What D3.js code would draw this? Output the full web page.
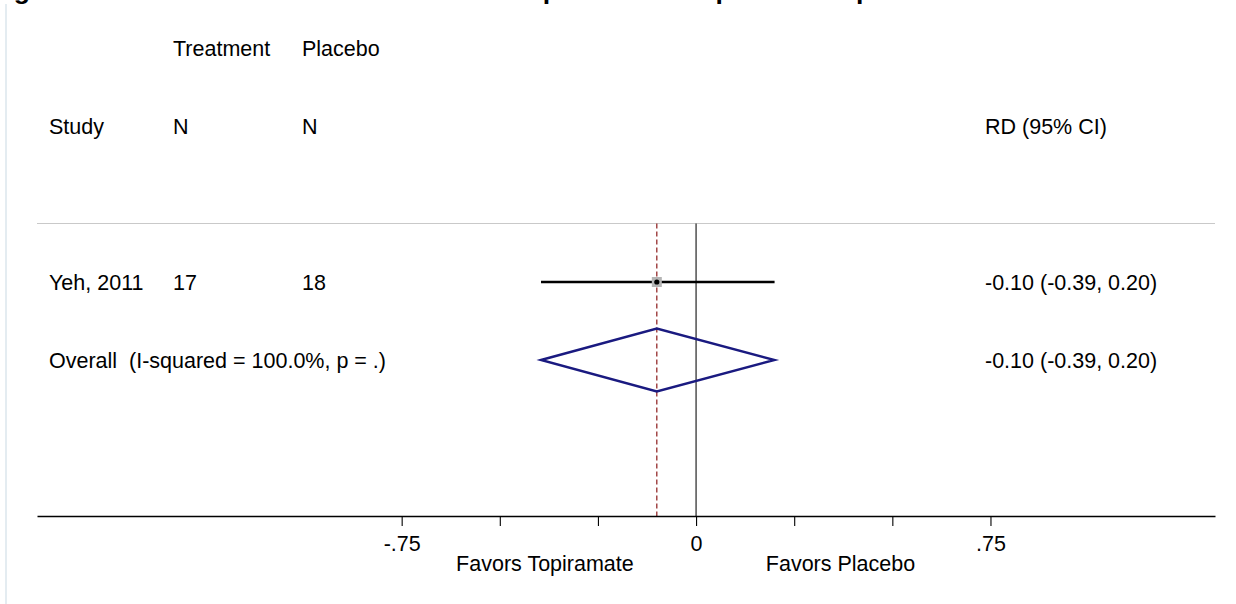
<!DOCTYPE html>
<html>
<head>
<meta charset="utf-8">
<script src="https://cdn.jsdelivr.net/npm/d3@7"></script>
<style>
  html, body { margin: 0; padding: 0; background: #fff; }
  svg { display: block; }
  text { font-family: "Liberation Sans", Arial, sans-serif; fill: #000; white-space: pre; }
</style>
</head>
<body>
<svg id="chart" width="1236" height="604"></svg>
<script>
// ---- data ----
const titleText = "Figure 1. Risk difference of outcome with topiramate compared with placebo";
const headerTop = ["Treatment", "Placebo"];
const headerCols = ["Study", "N", "N", "RD (95% CI)"];
const studies = ["Yeh, 2011"];
const treatN = [17];
const placeboN = [18];
const rdEst = [-0.10];
const rdLo = [-0.395];
const rdHi = [0.20];
const rdLabels = ["-0.10 (-0.39, 0.20)"];
const overallLabel = "Overall  (I-squared = 100.0%, p = .)";
const overallEst = -0.10, overallLo = -0.395, overallHi = 0.20;
const overallText = "-0.10 (-0.39, 0.20)";
const tickValues = [-0.75, -0.5, -0.25, 0, 0.25, 0.5, 0.75];
const tickLabels = {"-0.75": "-.75", "0": "0", "0.75": ".75"};
const favorLabels = ["Favors Topiramate", "Favors Placebo"];
const favorPos = [-0.385, 0.368];

// ---- scales ----
const svg = d3.select("#chart");
const x = d3.scaleLinear().domain([-1.679, 1.322]).range([37, 1215]);
const row = d3.scaleLinear().domain([0, 1]).range([282, 360]);
const fs = 21.5;
const colX = [49, 173, 302, 985];

// page frame line
svg.append("line").attr("x1", 6).attr("x2", 6).attr("y1", 4).attr("y2", 604)
  .attr("stroke", "#e4ecf1").attr("stroke-width", 2);

// clipped title (only descenders visible, as in the reference)
svg.append("text").attr("x", -10).attr("y", -1)
  .attr("font-size", 26.6).attr("font-weight", "bold").text(titleText);

// headers
svg.selectAll("text.htop").data(headerTop).enter().append("text")
  .attr("class", "htop").attr("x", (d, i) => colX[i + 1]).attr("y", row(-3))
  .attr("dy", "0.36em").attr("font-size", fs).text(d => d);
svg.selectAll("text.hcol").data(headerCols).enter().append("text")
  .attr("class", "hcol").attr("x", (d, i) => colX[i]).attr("y", row(-2))
  .attr("dy", "0.36em").attr("font-size", fs).text(d => d);

// separator
svg.append("line").attr("x1", x.range()[0]).attr("x2", x.range()[1])
  .attr("y1", row(-0.75)).attr("y2", row(-0.75))
  .attr("stroke", "#c9c9c9").attr("stroke-width", 1.2);

// null line & overall dashed line
svg.append("line").attr("x1", x(0)).attr("x2", x(0))
  .attr("y1", row(-0.75)).attr("y2", row(3))
  .attr("stroke", "#222").attr("stroke-width", 1.2);
svg.append("line").attr("x1", x(overallEst)).attr("x2", x(overallEst))
  .attr("y1", row(-0.75)).attr("y2", row(3))
  .attr("stroke", "#8b1a1a").attr("stroke-width", 1.2).attr("stroke-dasharray", "5,3");

// study rows
studies.forEach((s, i) => {
  const y = row(i);
  svg.append("text").attr("x", colX[0]).attr("y", y).attr("dy", "0.36em").attr("font-size", fs).text(s);
  svg.append("text").attr("x", colX[1]).attr("y", y).attr("dy", "0.36em").attr("font-size", fs).text(treatN[i]);
  svg.append("text").attr("x", colX[2]).attr("y", y).attr("dy", "0.36em").attr("font-size", fs).text(placeboN[i]);
  svg.append("text").attr("x", colX[3]).attr("y", y).attr("dy", "0.36em").attr("font-size", fs).text(rdLabels[i]);
  svg.append("line").attr("x1", x(rdLo[i])).attr("x2", x(rdHi[i])).attr("y1", y).attr("y2", y)
    .attr("stroke", "#000").attr("stroke-width", 2.4);
  svg.append("rect").attr("x", x(rdEst[i]) - 5).attr("y", y - 5).attr("width", 10).attr("height", 10)
    .attr("fill", "#b4b4b4");
  svg.append("circle").attr("cx", x(rdEst[i])).attr("cy", y).attr("r", 2.6).attr("fill", "#000");
});

// overall row
const yo = row(1);
svg.append("text").attr("x", colX[0]).attr("y", yo).attr("dy", "0.36em").attr("font-size", fs)
  .attr("xml:space", "preserve").text(overallLabel);
svg.append("text").attr("x", colX[3]).attr("y", yo).attr("dy", "0.36em").attr("font-size", fs).text(overallText);
const dh = 31.5;
svg.append("polygon")
  .attr("points", [[x(overallLo), yo], [x(overallEst), yo - dh], [x(overallHi), yo], [x(overallEst), yo + dh]].map(p => p.join(",")).join(" "))
  .attr("fill", "none").attr("stroke", "#1a1a80").attr("stroke-width", 2.4);

// axis
const axisY = row(3);
const axisG = svg.append("g").attr("transform", `translate(0,${axisY})`);
axisG.call(d3.axisBottom(x).tickValues(tickValues).tickSizeInner(10).tickSizeOuter(0).tickPadding(10)
  .tickFormat(d => tickLabels[String(d)] || ""));
axisG.select(".domain").attr("stroke", "#000").attr("stroke-width", 1.6);
axisG.selectAll(".tick line").attr("stroke", "#000").attr("stroke-width", 1.1);
axisG.selectAll(".tick text").attr("font-size", fs).attr("font-family", "Liberation Sans, Arial, sans-serif").attr("fill", "#000");

svg.selectAll("text.favor").data(favorLabels).enter().append("text")
  .attr("class", "favor").attr("x", (d, i) => x(favorPos[i])).attr("y", axisY + 55)
  .attr("text-anchor", "middle").attr("font-size", fs).text(d => d);
</script>
</body>
</html>
